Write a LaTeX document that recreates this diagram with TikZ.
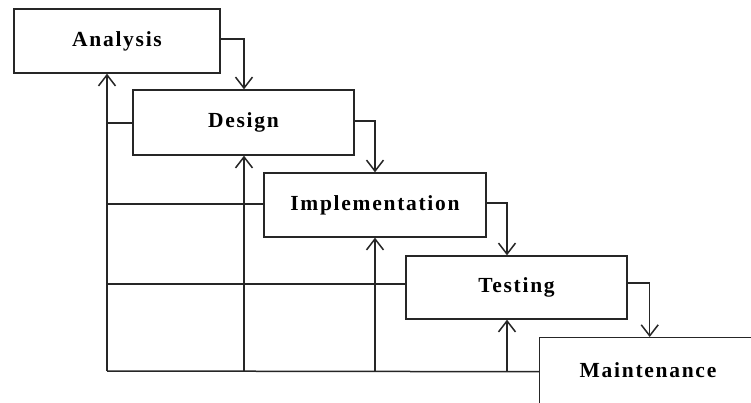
\documentclass[tikz,border=0pt]{standalone}
\usepackage{fontspec}
\setmainfont{Liberation Serif}
\newfontfamily\phasefont[LetterSpace=8]{Liberation Serif}
\usetikzlibrary{arrows.meta}
\tikzset{
  label font/.style={font=\phasefont\fontsize{21.5}{25}\selectfont\bfseries},
  phase/.style={draw=black!85, line width=1.4pt, fill=white, inner sep=0pt, label font},
  flow/.style={draw=black!85, line width=1.5pt, line join=miter},
  arr/.style={flow, -{Straight Barb[length=11pt,width=17pt,line width=1.5pt]}}
}
\begin{document}
\begin{tikzpicture}[x=1pt,y=-1pt]
  \fill[white] (0,0) rectangle (751,402);
  \useasboundingbox (0,0) rectangle (751,402);
  \clip (0,0) rectangle (751,402);

  % phases of the waterfall
  \node[phase, minimum width=206pt, minimum height=64pt] (A) at (117,41) {Analysis};
  \node[phase, minimum width=221pt, minimum height=65pt] (D) at (243.5,122.5) {Design};
  \node[phase, minimum width=222pt, minimum height=64pt] (I) at (375,205) {Implementation};
  \node[phase, minimum width=221pt, minimum height=63pt] (T) at (516.5,287.5) {Testing};
  \node[phase, minimum width=222pt, minimum height=68pt, anchor=north west] (M) at (539,337) {};
  \node[label font] (Mt) at (648,370) {Maintenance};

  % ports on the sides of the boxes (shifts are in canvas direction: + is up)
  \coordinate (Aout) at ([yshift=2pt]A.east);
  \coordinate (Dtop) at ([xshift=0.5pt]D.north);
  \coordinate (Dbot) at ([xshift=0.5pt]D.south);
  \coordinate (Dout) at ([yshift=1.5pt]D.east);
  \coordinate (Din)  at ([yshift=-0.5pt]D.west);
  \coordinate (Iout) at ([yshift=2pt]I.east);
  \coordinate (Iin)  at ([yshift=1pt]I.west);
  \coordinate (Tout) at ([yshift=4.5pt]T.east);
  \coordinate (Tin)  at ([yshift=3.5pt]T.west);
  \coordinate (Ttop) at ([xshift=-9.5pt]T.north);
  \coordinate (Tbot) at ([xshift=-9.5pt]T.south);

  % forward flow
  \draw[arr] (Aout) -| (Dtop);
  \draw[arr] (Dout) -| (I.north);
  \draw[arr] (Iout) -| (Ttop);
  \draw[arr] (Tout) -| ([xshift=-1pt]M.north);

  % feedback paths
  \coordinate (base) at (107,371);
  \draw[flow] (M.west) -- (base);
  \draw[arr] (base) -- (base |- A.south);
  \draw[flow] (Din) -- (Din -| base);
  \draw[flow] (Iin) -- (Iin -| base);
  \draw[flow] (Tin) -- (Tin -| base);
  \draw[arr] (Dbot |- base) -- (Dbot);
  \draw[arr] (I.south |- base) -- (I.south);
  \draw[arr] (Tbot |- base) -- (Tbot);
\end{tikzpicture}
\end{document}
